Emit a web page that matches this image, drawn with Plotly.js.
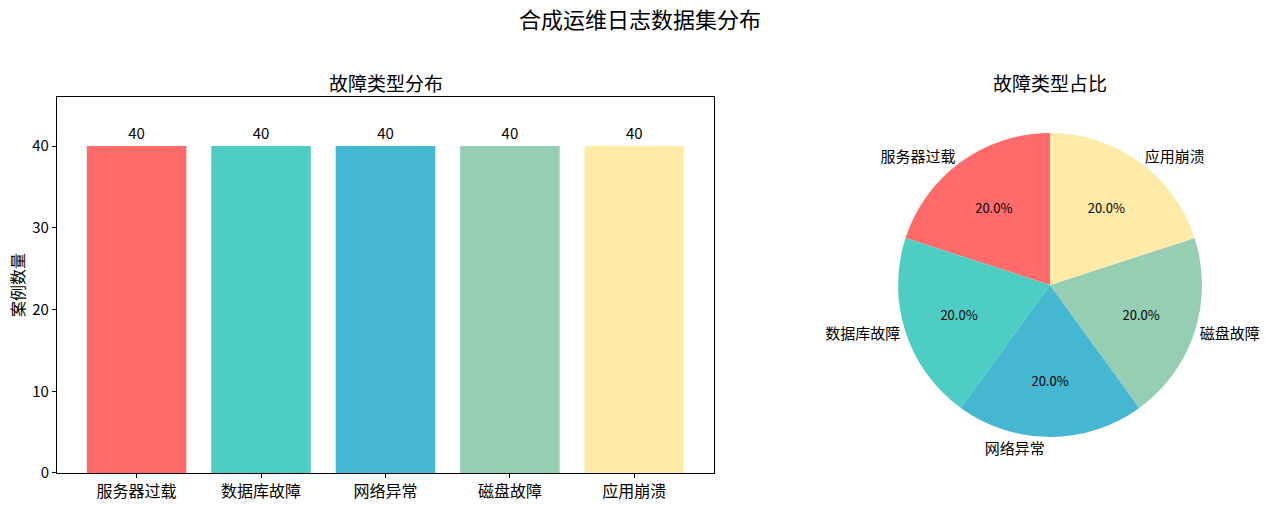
<!DOCTYPE html>
<html>
<head>
<meta charset="utf-8">
<script src="https://cdn.plot.ly/plotly-3.0.1.min.js"></script>
<style>
  html, body { margin: 0; padding: 0; background: #fff; }
  #chart { width: 1280px; height: 505px; }
</style>
</head>
<body>
<div id="chart"></div>
<script>
// fault categories and counts
const categories = ['服务器过载', '数据库故障', '网络异常', '磁盘故障', '应用崩溃'];
const counts = [40, 40, 40, 40, 40];
const colors = ['#FF6B6B', '#4ECDC4', '#45B7D1', '#96CEB4', '#FFEAA7'];
const yTicks = [0, 10, 20, 30, 40];

const FONT = '"Noto Sans CJK SC", "DejaVu Sans", sans-serif';

const barTrace = {
    type: 'bar',
    x: categories,
    y: counts,
    width: 0.8,
    marker: { color: colors },
    text: counts.map(String),
    textposition: 'outside',
    cliponaxis: false,
    textfont: { size: 15, color: '#000', family: FONT },
    hoverinfo: 'x+y',
};

const pieDomain = { x: [0.7016, 0.9391], y: [0.1347, 0.7366] };

// inner pie with percentages
const pieTrace = {
    type: 'pie',
    labels: categories,
    values: counts,
    sort: false,
    direction: 'counterclockwise',
    rotation: -72,
    domain: pieDomain,
    marker: { colors: colors, line: { width: 0 } },
    texttemplate: '%{percent:.1%}',
    textposition: 'inside',
    insidetextorientation: 'horizontal',
    textfont: { size: 13, color: '#000', family: FONT },
    showlegend: false,
};

// transparent copy just to carry the outside labels
const pieLabels = Object.assign({}, pieTrace, {
    marker: { colors: categories.map(() => 'rgba(0,0,0,0)'), line: { width: 0 } },
    texttemplate: '%{label}',
    textposition: 'outside',
    textfont: { size: 15, color: '#000', family: FONT },
    hoverinfo: 'skip',
});

const layout = {
    width: 1280,
    height: 505,
    margin: { l: 0, r: 0, t: 0, b: 0 },
    paper_bgcolor: '#fff',
    plot_bgcolor: '#fff',
    font: { family: FONT, color: '#000', size: 14 },
    showlegend: false,
    xaxis: {
        domain: [0.0445, 0.5578],
        range: [-0.64, 4.64],
        showline: true, mirror: true, linecolor: '#000', linewidth: 1,
        ticks: 'outside', ticklen: 4, tickcolor: '#000',
        tickfont: { size: 16, family: FONT },
        showgrid: false, zeroline: false,
        fixedrange: true,
    },
    yaxis: {
        domain: [0.0634, 0.8079],
        range: [0, 46],
        tickvals: yTicks,
        showline: true, mirror: true, linecolor: '#000', linewidth: 1,
        ticks: 'outside', ticklen: 4, tickcolor: '#000',
        tickfont: { size: 15, family: FONT },
        showgrid: false, zeroline: false,
        title: { text: '案例数量', font: { size: 16, family: FONT }, standoff: 3 },
        fixedrange: true,
    },
    annotations: [
        { text: '合成运维日志数据集分布', xref: 'paper', yref: 'paper', x: 0.5, y: 1 - 18 / 505,
          showarrow: false, font: { size: 22, family: FONT }, xanchor: 'center', yanchor: 'middle' },
        { text: '故障类型分布', xref: 'paper', yref: 'paper', x: (57 + 714) / 2 / 1280, y: 1 - 82 / 505,
          showarrow: false, font: { size: 19, family: FONT }, xanchor: 'center', yanchor: 'middle' },
        { text: '故障类型占比', xref: 'paper', yref: 'paper', x: 1050 / 1280, y: 1 - 82 / 505,
          showarrow: false, font: { size: 19, family: FONT }, xanchor: 'center', yanchor: 'middle' },
    ],
};

Plotly.newPlot('chart', [barTrace, pieTrace, pieLabels], layout, { displayModeBar: false, staticPlot: true });
</script>
</body>
</html>
